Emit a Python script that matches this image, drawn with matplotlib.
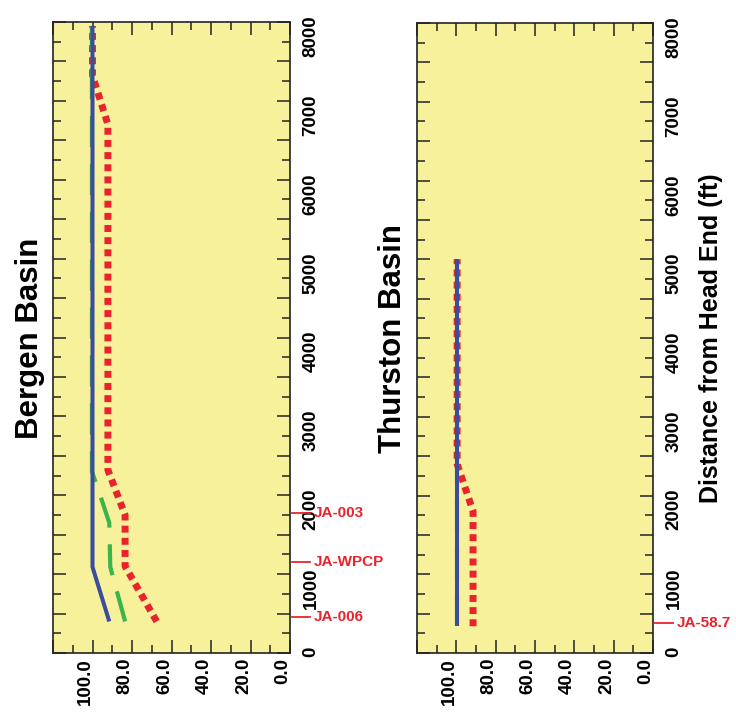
import matplotlib
matplotlib.use("Agg")
import matplotlib.pyplot as plt
from matplotlib.ticker import MultipleLocator, FuncFormatter
from matplotlib.transforms import ScaledTranslation, blended_transform_factory
from matplotlib.lines import Line2D

plt.rcParams['font.family'] = ['Liberation Sans', 'DejaVu Sans']

# Bergen Basin profiles: distance from head end (ft) and percent
bergen_blue_ft = [400, 1090, 7950]
bergen_blue_pct = [91.5, 100.0, 100.0]
bergen_green_ft = [400, 1090, 1650, 2030, 2300, 7950]
bergen_green_pct = [83.5, 91.0, 91.5, 96.5, 100.3, 100.3]
bergen_red_ft = [400, 1100, 1750, 2320, 6700, 7320, 7950]
bergen_red_pct = [67.5, 83.5, 83.5, 92.2, 92.2, 100.0, 100.0]
bergen_stations = ['JA-006', 'JA-WPCP', 'JA-003']
bergen_station_ft = [457, 1156, 1778]

# Thurston Basin profiles
thurston_blue_ft = [340, 5000]
thurston_blue_pct = [99.6, 99.6]
thurston_green_ft = [340, 5000]
thurston_green_pct = [99.8, 99.8]
thurston_red_ft = [340, 1800, 2400, 5000]
thurston_red_pct = [91.5, 91.5, 99.6, 99.6]
thurston_stations = ['JA-58.7']
thurston_station_ft = [381]

panel_titles = ['Bergen Basin', 'Thurston Basin']
distance_label = 'Distance from Head End (ft)'

BG = '#f8f19b'
RED = '#e8232b'
GREEN = '#3cb44b'
BLUE = '#3a4d9e'
FRAME = '#222222'

W, H = 736, 719
fig = plt.figure(figsize=(W / 100, H / 100), dpi=100)


def px_rect(x0, y0, x1, y1):
    return [x0 / W, 1 - y1 / H, (x1 - x0) / W, (y1 - y0) / H]


def px_shift(dx, dy=0):
    return ScaledTranslation(dx / 100, dy / 100, fig.dpi_scale_trans)


ax1 = fig.add_axes(px_rect(53, 22, 290, 653))
ax2 = fig.add_axes(px_rect(417, 23, 653, 653))


def draw_panel(ax, blue, green, red, stations, station_ft, title, title_x):
    ax.set_facecolor(BG)
    ax.plot(red[1], red[0], color=RED, lw=5, linestyle=(0, (1, 0.75)),
            dash_capstyle='butt', solid_capstyle='butt', zorder=2)
    ax.plot(green[1], green[0], color=GREEN, lw=3, linestyle=(0, (7.5, 4)),
            dash_capstyle='butt', solid_capstyle='butt', zorder=3)
    ax.plot(blue[1], blue[0], color=BLUE, lw=2.9,
            solid_capstyle='butt', zorder=4)

    ax.set_xlim(120, 0)
    ax.set_ylim(0, 8000)

    ax.xaxis.set_major_locator(MultipleLocator(20))
    ax.xaxis.set_minor_locator(MultipleLocator(10))
    ax.xaxis.set_major_formatter(FuncFormatter(
        lambda v, p: '' if v > 100.5 else f'{v:.1f}'))
    ax.yaxis.set_major_locator(MultipleLocator(500))
    ax.yaxis.set_minor_locator(MultipleLocator(250))
    ax.yaxis.set_major_formatter(FuncFormatter(
        lambda v, p: f'{int(round(v))}' if round(v) % 1000 == 0 else ''))

    ax.tick_params(which='both', direction='in', top=True, bottom=True,
                   left=True, right=True, labelleft=False, labelright=True,
                   labeltop=False, labelbottom=True, color=FRAME, width=1.1)
    ax.tick_params(which='major', length=9.5)
    ax.tick_params(which='minor', length=6)
    ax.tick_params(axis='x', labelrotation=90, pad=3.6, labelsize=13.5)
    ax.tick_params(axis='y', labelrotation=90, pad=9, labelsize=13.5)
    for lab in ax.get_xticklabels():
        lab.set_fontweight('bold')
        lab.set_transform(lab.get_transform() + px_shift(-7))
    for lab in ax.get_yticklabels():
        lab.set_fontweight('bold')
    for sp in ax.spines.values():
        sp.set_color(FRAME)
        sp.set_linewidth(1.2)

    # station markers: short red leader 2..20 px right of the spine, then name
    span = ax.get_position().width * W
    bt = blended_transform_factory(ax.transAxes, ax.transData)
    for name, ft in zip(stations, station_ft):
        ax.add_line(Line2D([1 + 2 / span, 1 + 20 / span], [ft, ft],
                           color=RED, lw=1.3, transform=bt, clip_on=False))
        ax.text(1, ft, name, transform=bt + px_shift(24),
                ha='left', va='center', color=RED, fontsize=11,
                fontweight='bold', zorder=6)

    fig.text(title_x / W, 1 - 338 / H, title, rotation=90, ha='center',
             va='center', fontsize=22.5, fontweight='bold')


draw_panel(ax1, (bergen_blue_ft, bergen_blue_pct),
           (bergen_green_ft, bergen_green_pct),
           (bergen_red_ft, bergen_red_pct),
           bergen_stations, bergen_station_ft, panel_titles[0], 30)
draw_panel(ax2, (thurston_blue_ft, thurston_blue_pct),
           (thurston_green_ft, thurston_green_pct),
           (thurston_red_ft, thurston_red_pct),
           thurston_stations, thurston_station_ft, panel_titles[1], 393)

ax2.yaxis.set_label_position('right')
ax2.set_ylabel(distance_label, fontsize=18, fontweight='bold', labelpad=12,
               rotation=90)

fig.savefig('out.png', dpi=100, facecolor='white')
